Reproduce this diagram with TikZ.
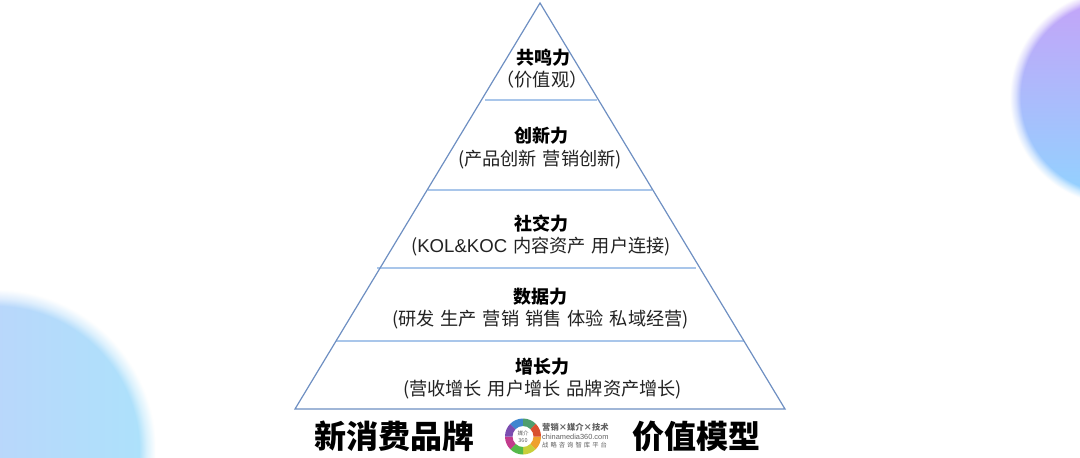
\documentclass[tikz,border=0pt]{standalone}
\usepackage{fontspec}
\setmainfont[WordSpace=1.45]{Noto Sans CJK SC}
\newfontfamily\latinsans{Liberation Sans}
\usetikzlibrary{fadings}
\definecolor{edgeblue}{HTML}{6E8FC2}
\definecolor{divblue}{HTML}{A9C6EA}
\definecolor{subtext}{HTML}{222222}
\definecolor{lefta}{HTML}{C6CCFA}
\definecolor{leftb}{HTML}{C0CCF8}
\definecolor{leftc}{HTML}{ACE2FB}
\definecolor{righta}{HTML}{C6A2F8}
\definecolor{rightb}{HTML}{8FD0FF}
\definecolor{rightc}{HTML}{90D4FF}
\pgfdeclareradialshading{blobfade}{\pgfpointorigin}{color(0bp)=(pgftransparent!0);color(22.4bp)=(pgftransparent!0);color(23.6bp)=(pgftransparent!55);color(25bp)=(pgftransparent!100);color(50bp)=(pgftransparent!100)}
\pgfdeclarefading{blobedge}{\pgfuseshading{blobfade}}
\tikzset{
  layerhead/.style={font=\fontsize{18}{22}\selectfont\bfseries,text=black,inner sep=0pt},
  layersub/.style={font=\fontsize{18.2}{22}\selectfont,text=subtext,inner sep=0pt},
  bigtitle/.style={font=\fontsize{32}{38}\selectfont\bfseries,text=black,inner sep=0pt},
  divider/.style={divblue,line width=1.1pt},
  pyramid/.style={edgeblue,line width=1.2pt,line join=miter},
  logotxt/.style={inner sep=0pt,text=black!62},
}
\begin{document}
\begin{tikzpicture}[x=1pt,y=-1pt]
\useasboundingbox (0,0) rectangle (1080,458);
\fill[white] (0,0) rectangle (1080,458);
% blobs
\begin{scope}
\clip (0,0) rectangle (1080,458);
\path[path fading=blobedge,fit fading=true,left color=lefta,middle color=leftb,right color=leftc]
  (-165,290) rectangle (155,610);
\path[path fading=blobedge,fit fading=true,top color=righta,middle color=rightb,bottom color=rightc]
  (1010,-10) rectangle (1224,204);
\end{scope}
% pyramid
\coordinate (apex) at (540,3);
\coordinate (bl) at (295,409);
\coordinate (br) at (785,409);
\coordinate (d1l) at (485,100); \coordinate (d1r) at (597,100);
\coordinate (d2l) at (428,190); \coordinate (d2r) at (652,190);
\coordinate (d3l) at (377,268); \coordinate (d3r) at (696,268);
\coordinate (d4l) at (336,341); \coordinate (d4r) at (744,341);
\draw[divider] (d1l) -- (d1r);
\draw[divider] (d2l) -- (d2r);
\draw[divider] (d3l) -- (d3r);
\draw[divider] (d4l) -- (d4r);
\draw[pyramid] (apex) -- (bl) -- (br) -- cycle;
% labels
\node[layerhead] (h1) at (543,57.5) {共鸣力};
\node[layersub] (s1) at (542,79.5) {（价值观）};
\node[layerhead] (h2) at (541,136) {创新力};
\node[layersub] (s2) at (540,159.5) {(产品创新 营销创新)};
\node[layerhead] (h3) at (541,223.5) {社交力};
\node[layersub] (s3) at (541,246.5) {({\latinsans\fontsize{18.6}{22}\selectfont KOL\&KOC} 内容资产 用户连接)};
\node[layerhead] (h4) at (540,296.5) {数据力};
\node[layersub] (s4) at (540.5,319.5) {(研发 生产 营销 销售 体验 私域经营)};
\node[layerhead] (h5) at (542,367) {增长力};
\node[layersub] (s5) at (542.5,389.5) {(营收增长 用户增长 品牌资产增长)};
\node[bigtitle] (t1) at (394,436.5) {新消费品牌};
\node[bigtitle] (t2) at (696.5,436.5) {价值模型};
% logo
\begin{scope}[shift={(523,436.5)}]
\foreach \a/\b/\c in {0/45/EFA12C,45/90/C8CF3A,90/135/55B94A,135/180/C23C8C,180/225/7A4DB0,225/270/3F86CF,270/315/4E9E6E,315/360/D9502E}{
  \definecolor{ringc}{HTML}{\c}
  \fill[ringc] (\a:18) arc[start angle=\a,end angle=\b,radius=18] -- (\b:10.5) arc[start angle=\b,end angle=\a,radius=10.5] -- cycle;
}
\node[logotxt,font=\fontsize{5.5}{6.5}\selectfont,align=center] (lc) at (0,0) {媒介\\360};
\end{scope}
\node[logotxt,font=\fontsize{8.3}{10}\selectfont\bfseries,anchor=west] (l1) at (542,427.5) {营销×媒介×技术};
\node[logotxt,font=\fontsize{7.4}{8}\selectfont\latinsans,anchor=west] (l2) at (542,436.5) {chinamedia360.com};
\node[logotxt,font=\fontsize{6.3}{7}\selectfont,anchor=west] (l3) at (542,445.5) {战 略 咨 询 智 库 平 台};
\end{tikzpicture}
\end{document}
